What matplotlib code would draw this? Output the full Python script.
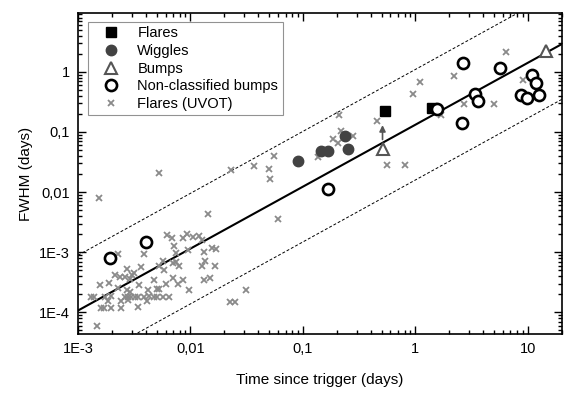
import numpy as np
import matplotlib
matplotlib.use("Agg")
import matplotlib.pyplot as plt
from matplotlib.ticker import FixedLocator, FixedFormatter, NullFormatter, LogLocator

plt.rcParams['font.family'] = ['Liberation Sans', 'DejaVu Sans']
plt.rcParams['font.size'] = 10.5

# --- data (time since trigger, FWHM), days ---
flares_t = [0.536, 1.41]
flares_w = [0.224, 0.248]

wiggles_t = [0.0898, 0.145, 0.168, 0.236, 0.249]
wiggles_w = [0.0325, 0.048, 0.048, 0.0858, 0.0529]

bumps_t = [0.51, 14.4]
bumps_w = [0.053, 2.24]

nc_t = [0.00194, 0.00405, 0.168, 1.57, 2.66, 2.61, 3.38, 3.62, 5.64, 8.6, 9.73, 10.8, 11.7, 12.6]
nc_w = [8.07e-4, 1.47e-3, 0.0114, 0.239, 1.38, 0.1435, 0.425, 0.329, 1.15, 0.414, 0.365, 0.891, 0.641, 0.409]

uvot_t = [0.00155, 0.0053, 0.0228, 0.0369, 0.055, 0.050, 0.051, 0.21, 0.218, 0.184,
          0.207, 0.28, 0.147, 0.137, 0.457, 0.555, 0.807, 0.955, 1.1, 2.2,
          1.69, 2.7, 5.0, 6.4, 9.1, 0.060, 0.0142, 0.00614, 0.0068, 0.00925,
          0.0085, 0.0105, 0.012, 0.0126, 0.0072, 0.0095, 0.0154, 0.0169, 0.0132, 0.0074,
          0.0135, 0.0126, 0.0165, 0.0057, 0.0052, 0.0058, 0.0070, 0.0075, 0.0079, 0.0070,
          0.0085, 0.0078, 0.0061, 0.0047, 0.0132, 0.0149, 0.0098, 0.031, 0.0050, 0.0053,
          0.0047, 0.0050, 0.0057, 0.0065, 0.0224, 0.0249, 0.00227, 0.0039, 0.00274, 0.0036,
          0.00212, 0.00235, 0.0026, 0.0030, 0.00315, 0.0029, 0.00156, 0.00187, 0.00227, 0.0035,
          0.0027, 0.0029, 0.00131, 0.00139, 0.00173, 0.00198, 0.0026, 0.00278, 0.00298, 0.00319,
          0.00341, 0.0042, 0.0039, 0.0043, 0.00185, 0.00278, 0.0024, 0.0041, 0.00159, 0.0017,
          0.00198, 0.00243, 0.0034, 0.00146]
uvot_w = [0.0081, 0.0207, 0.0236, 0.0275, 0.0404, 0.0242, 0.0165, 0.19, 0.104, 0.0755,
          0.0656, 0.0858, 0.0495, 0.0383, 0.155, 0.0286, 0.0286, 0.42, 0.68, 0.865,
          0.19, 0.29, 0.297, 2.1, 0.73, 0.0036, 0.00425, 0.00195, 0.00174, 0.00203,
          0.00174, 0.00178, 0.00183, 0.0016, 0.00129, 0.00111, 0.00118, 0.00114, 0.001, 0.00096,
          0.00071, 0.000585, 0.000585, 0.00071, 0.0006, 0.00051, 0.00066, 0.00068, 0.0006, 0.00038,
          0.00035, 0.0003, 0.0003, 0.00034, 0.00034, 0.00037, 0.000236, 0.000236, 0.000245, 0.000245,
          0.000178, 0.000183, 0.000178, 0.000178, 0.000147, 0.000147, 0.00094, 0.00092, 0.00053, 0.00056,
          0.000425, 0.000394, 0.000394, 0.000425, 0.000447, 0.00036, 0.00028, 0.00031, 0.000255, 0.00028,
          0.000236, 0.000215, 0.000178, 0.000178, 0.000183, 0.00019, 0.000178, 0.000178, 0.000178, 0.000178,
          0.000178, 0.000236, 0.000178, 0.00019, 0.000153, 0.000161, 0.000157, 0.000157, 0.000118, 0.000118,
          0.000118, 0.000118, 0.000121, 0.00006]

# power-law fit FWHM = norm * t^index, dashed lines at +/- a factor
fit_norm = 0.132
fit_index = 1.03
band_factor = 8.3

# arrow above the first bump (lower limit)
arrow_t = 0.51
arrow_from = 0.075
arrow_to = 0.13

xticks = [1e-3, 1e-2, 1e-1, 1, 10]
xticklabels = ['1E-3', '0,01', '0,1', '1', '10']
yticks = [1e-4, 1e-3, 1e-2, 1e-1, 1, 10]
yticklabels = ['1E-4', '1E-3', '0,01', '0,1', '1', '10']

fig = plt.figure(figsize=(5.67, 3.96), dpi=100)
ax = fig.add_axes([0.1376, 0.1566, 0.8531, 0.8098])
ax.set_xscale('log')
ax.set_yscale('log')
ax.set_xlim(1e-3, 20)
ax.set_ylim(4.37e-5, 9.4)

t = np.logspace(-3, np.log10(20), 200)
fit = fit_norm * t**fit_index
ax.plot(t, fit, color='black', lw=1.5, zorder=2)
ax.plot(t, fit * band_factor, color='black', lw=0.7, ls=(0, (3, 2)), zorder=2)
ax.plot(t, fit / band_factor, color='black', lw=0.7, ls=(0, (3, 2)), zorder=2)

ax.plot(uvot_t, uvot_w, ls='none', marker='x', ms=4.3, mew=1.3, color='#8a8a8a',
        label='Flares (UVOT)', zorder=3)
ax.plot(flares_t, flares_w, ls='none', marker='s', ms=7.5, color='black',
        label='Flares', zorder=4)
ax.plot(wiggles_t, wiggles_w, ls='none', marker='o', ms=7.5, color='#424242',
        label='Wiggles', zorder=4)
ax.plot(bumps_t, bumps_w, ls='none', marker='^', ms=9, mfc='white', mec='#555555',
        mew=1.5, label='Bumps', zorder=5)
ax.plot(nc_t, nc_w, ls='none', marker='o', ms=8, mfc='white', mec='black',
        mew=1.9, label='Non-classified bumps', zorder=5)

ax.annotate('', xy=(arrow_t, arrow_to), xytext=(arrow_t, arrow_from),
            arrowprops=dict(arrowstyle='-|>', color='#555555', lw=1.2,
                            mutation_scale=9, shrinkA=0, shrinkB=0), zorder=5)

ax.xaxis.set_major_locator(FixedLocator(xticks))
ax.xaxis.set_major_formatter(FixedFormatter(xticklabels))
ax.yaxis.set_major_locator(FixedLocator(yticks))
ax.yaxis.set_major_formatter(FixedFormatter(yticklabels))
ax.xaxis.set_minor_locator(LogLocator(base=10, subs=np.arange(2, 10), numticks=20))
ax.yaxis.set_minor_locator(LogLocator(base=10, subs=np.arange(2, 10), numticks=20))
ax.xaxis.set_minor_formatter(NullFormatter())
ax.yaxis.set_minor_formatter(NullFormatter())
ax.tick_params(which='both', direction='in', top=True, right=True, width=1)
ax.tick_params(which='major', length=6, pad=6, labelsize=10.5)
ax.tick_params(which='minor', length=3)
for s in ax.spines.values():
    s.set_linewidth(1.2)

ax.set_xlabel('Time since trigger (days)', fontsize=11, labelpad=12)
ax.set_ylabel('FWHM (days)', fontsize=11, labelpad=4)

h, l = ax.get_legend_handles_labels()
order = [1, 2, 3, 4, 0]
leg = ax.legend([h[i] for i in order], [l[i] for i in order], loc='upper left',
                bbox_to_anchor=(0.02, 0.973), borderaxespad=0, numpoints=1,
                fancybox=False, edgecolor='#777777', handlelength=2.6,
                handletextpad=0.5, labelspacing=0.25, borderpad=0.3, fontsize=10.5)
leg.get_frame().set_linewidth(0.8)
leg.set_zorder(10)

fig.savefig('out.png', dpi=100)
